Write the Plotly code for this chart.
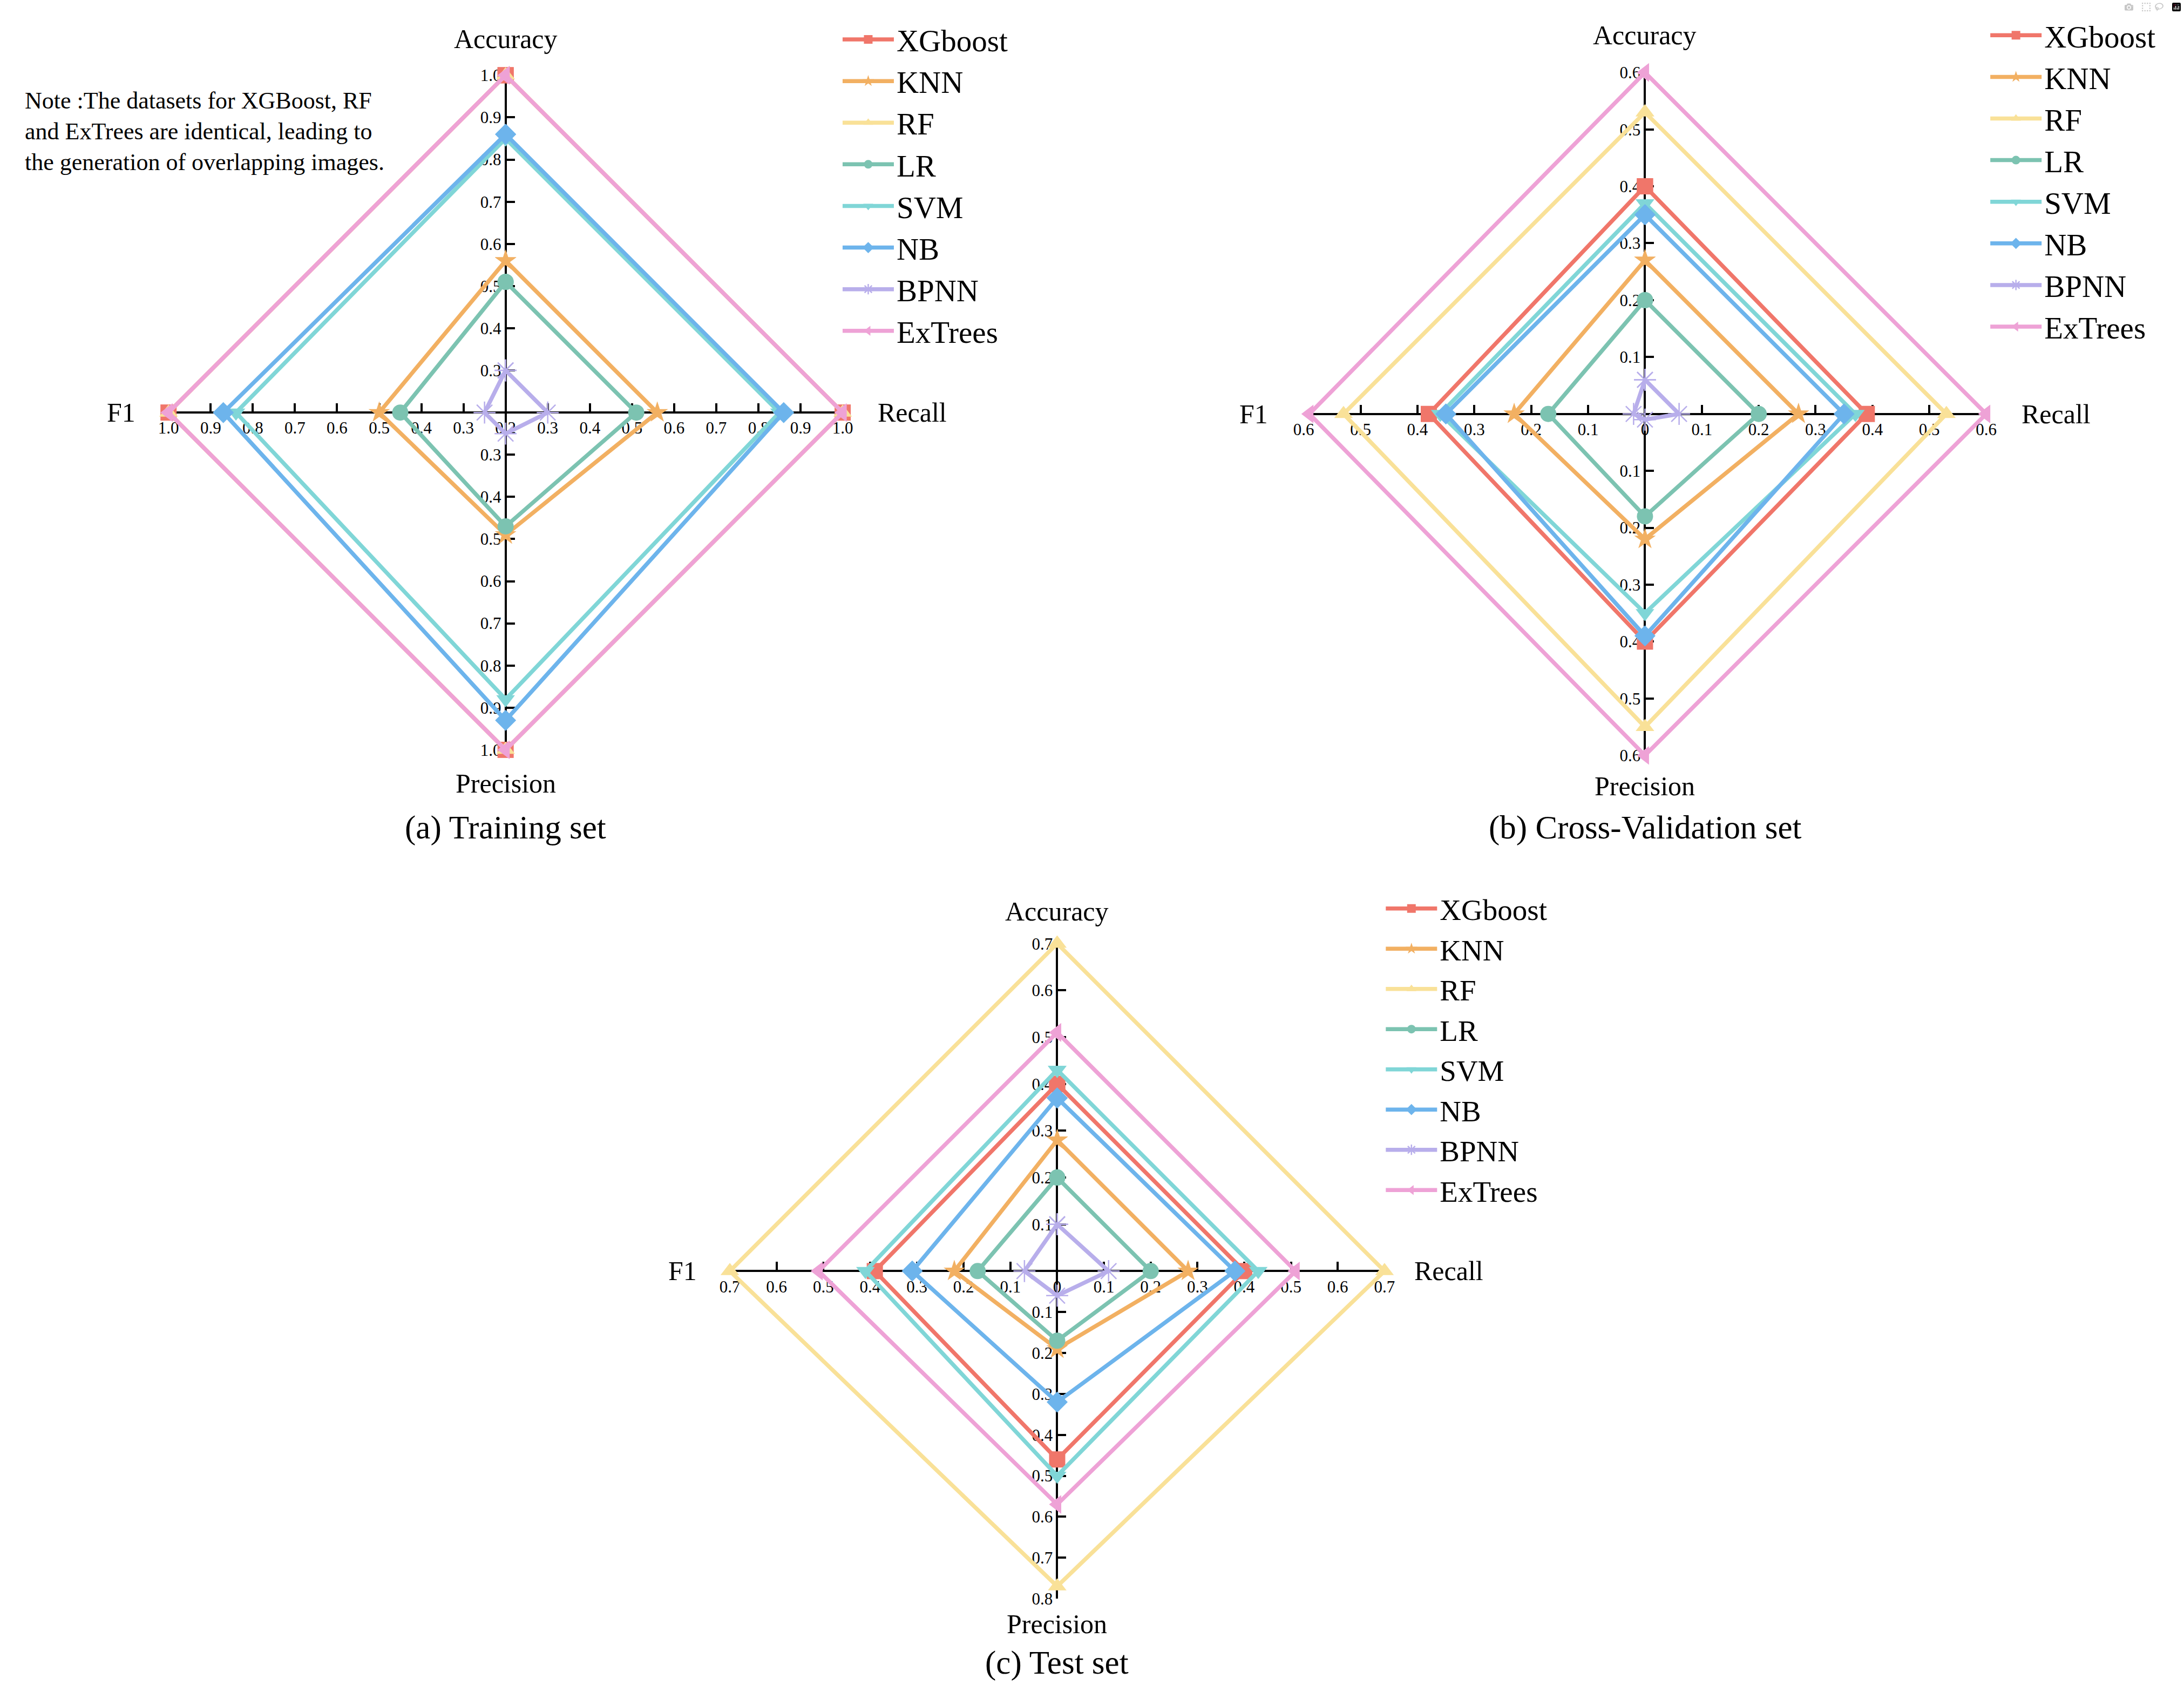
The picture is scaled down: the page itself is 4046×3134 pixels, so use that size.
import plotly.graph_objects as go

# ---------------- data ----------------
models = ["XGboost", "KNN", "RF", "LR", "SVM", "NB", "BPNN", "ExTrees"]
colors = ["#F0766A", "#F2B062", "#F9E198", "#7CC3B1", "#80D6D7", "#6DB4EC", "#B8AEEB", "#EEA2D6"]
symbols = ["square", "star", "triangle-up", "circle", "triangle-down", "diamond", "asterisk-open", "triangle-left"]

# (a) Training set
train_accuracy = [1.00, 0.56, 1.00, 0.51, 0.85, 0.86, 0.30, 1.00]
train_recall = [1.00, 0.56, 1.00, 0.51, 0.85, 0.86, 0.30, 1.00]
train_precision = [1.00, 0.49, 1.00, 0.47, 0.88, 0.93, 0.25, 1.00]
train_f1 = [1.00, 0.50, 1.00, 0.45, 0.84, 0.87, 0.25, 1.00]

# (b) Cross-Validation set
cv_accuracy = [0.40, 0.27, 0.53, 0.20, 0.37, 0.35, 0.06, 0.60]
cv_recall = [0.39, 0.27, 0.53, 0.20, 0.37, 0.35, 0.06, 0.60]
cv_precision = [0.40, 0.22, 0.55, 0.18, 0.35, 0.39, 0.01, 0.60]
cv_f1 = [0.38, 0.23, 0.53, 0.17, 0.36, 0.35, 0.02, 0.59]

# (c) Test set
test_accuracy = [0.40, 0.28, 0.70, 0.20, 0.43, 0.37, 0.10, 0.51]
test_recall = [0.40, 0.28, 0.70, 0.20, 0.43, 0.38, 0.11, 0.51]
test_precision = [0.46, 0.19, 0.77, 0.17, 0.50, 0.32, 0.06, 0.57]
test_f1 = [0.39, 0.22, 0.70, 0.17, 0.41, 0.31, 0.07, 0.51]

# axis scales: (base at centre, end value) for Accuracy, Recall, Precision, F1
train_scale = {"acc": (0.2, 1.0), "rec": (0.2, 1.0), "prec": (0.2, 1.0), "f1": (0.2, 1.0)}
cv_scale = {"acc": (0.0, 0.6), "rec": (0.0, 0.6), "prec": (0.0, 0.6), "f1": (0.0, 0.6)}
test_scale = {"acc": (0.0, 0.7), "rec": (0.0, 0.7), "prec": (0.0, 0.8), "f1": (0.0, 0.7)}

train_ticks = [0.3, 0.4, 0.5, 0.6, 0.7, 0.8, 0.9, 1.0]
cv_ticks = [0.1, 0.2, 0.3, 0.4, 0.5, 0.6]
test_ticks = [0.1, 0.2, 0.3, 0.4, 0.5, 0.6, 0.7]
test_prec_ticks = [0.1, 0.2, 0.3, 0.4, 0.5, 0.6, 0.7, 0.8]

FONT = "Liberation Serif"
W, H = 4046, 3134
DW, DH = 1568.0, 1214.0  # reference proportions


def fx(px):
    return px / DW


def fy(py):
    return 1 - py / DH


def norm(v, sc):
    b, m = sc
    return (v - b) / (m - b)


def fmt_tick(t):
    return "0" if abs(t) < 1e-9 else f"{t:.1f}"


panels = [
    dict(name="a", acc=train_accuracy, rec=train_recall, prec=train_precision, f1=train_f1,
         scale=train_scale, ticks=dict(acc=train_ticks, rec=train_ticks, prec=train_ticks, f1=train_ticks),
         center=(363, 296), arm=242, legend="legend",
         titles=dict(acc=(363, 28), prec=(363, 562), f1=(87, 296), rec=(655, 296)),
         caption=("(a) Training set", 363, 594), leg_x=603, leg_y=26, leg_font=57),
    dict(name="b", acc=cv_accuracy, rec=cv_recall, prec=cv_precision, f1=cv_f1,
         scale=cv_scale, ticks=dict(acc=cv_ticks, rec=cv_ticks, prec=cv_ticks, f1=cv_ticks),
         center=(1181, 297), arm=245, legend="legend2",
         titles=dict(acc=(1181, 25), prec=(1181, 564), f1=(900, 297), rec=(1476, 297)),
         caption=("(b) Cross-Validation set", 1181, 594), leg_x=1427, leg_y=23, leg_font=57),
    dict(name="c", acc=test_accuracy, rec=test_recall, prec=test_precision, f1=test_f1,
         scale=test_scale, ticks=dict(acc=test_ticks, rec=test_ticks, prec=test_prec_ticks, f1=test_ticks),
         center=(759, 912), arm=235, legend="legend3",
         titles=dict(acc=(759, 654), prec=(759, 1165), f1=(490, 912), rec=(1040, 912)),
         caption=("(c) Test set", 759, 1193), leg_x=993, leg_y=650, leg_font=55),
]

fig = go.Figure()
layout = dict(width=W, height=H, margin=dict(l=0, r=0, t=0, b=0),
              paper_bgcolor="white", plot_bgcolor="rgba(0,0,0,0)",
              font=dict(family=FONT, color="black"), annotations=[], showlegend=True)

for k, p in enumerate(panels):
    suffix = "" if k == 0 else str(k + 1)
    sc = p["scale"]
    cx, cy = p["center"]
    xdom = [fx(cx - p["arm"]), fx(cx + p["arm"])]
    ydom = [fy(cy + p["arm"]), fy(cy - p["arm"])]

    for i, m in enumerate(models):
        a = norm(p["acc"][i], sc["acc"])
        r = norm(p["rec"][i], sc["rec"])
        pr = norm(p["prec"][i], sc["prec"])
        f = norm(p["f1"][i], sc["f1"])
        xs = [0, r, 0, -f, 0]
        ys = [a, 0, -pr, 0, a]
        is_ast = symbols[i] == "asterisk-open"
        fig.add_trace(go.Scatter(
            x=xs, y=ys, mode="lines+markers", name=m,
            xaxis="x" + suffix, yaxis="y" + suffix, legend=p["legend"],
            line=dict(color=colors[i], width=7.5),
            marker=dict(symbol=symbols[i], size=30 if not is_ast else 34, color=colors[i],
                        line=dict(color=colors[i], width=2.5 if is_ast else 0)),
            cliponaxis=False, hoverinfo="skip"))

    # x axis: F1 to the left, Recall to the right
    xt_vals, xt_text = [], []
    for t in reversed(p["ticks"]["f1"]):
        xt_vals.append(-norm(t, sc["f1"]))
        xt_text.append(fmt_tick(t))
    xt_vals.append(0)
    xt_text.append(fmt_tick(sc["rec"][0]))
    for t in p["ticks"]["rec"]:
        xt_vals.append(norm(t, sc["rec"]))
        xt_text.append(fmt_tick(t))
    # y axis: Accuracy up, Precision down
    yt_vals, yt_text = [], []
    for t in reversed(p["ticks"]["prec"]):
        yt_vals.append(-norm(t, sc["prec"]))
        yt_text.append(fmt_tick(t))
    for t in p["ticks"]["acc"]:
        yt_vals.append(norm(t, sc["acc"]))
        yt_text.append(fmt_tick(t))

    common = dict(showgrid=False, zeroline=False, showline=True, linecolor="black", linewidth=4,
                  ticks="inside", ticklen=15, tickwidth=4, tickcolor="black",
                  tickfont=dict(family=FONT, size=31, color="black"), tickmode="array",
                  range=[-1, 1], fixedrange=True, layer="below traces", automargin=False)
    layout["xaxis" + suffix] = dict(common, domain=xdom, anchor="free", position=fy(cy),
                                    tickvals=xt_vals, ticktext=xt_text, tickangle=0)
    layout["yaxis" + suffix] = dict(common, domain=ydom, anchor="free", position=fx(cx),
                                    tickvals=yt_vals, ticktext=yt_text)

    # axis titles
    for key, txt in [("acc", "Accuracy"), ("prec", "Precision"), ("f1", "F1"), ("rec", "Recall")]:
        tx, ty = p["titles"][key]
        layout["annotations"].append(dict(text=txt, x=fx(tx), y=fy(ty), xref="paper", yref="paper",
                                          showarrow=False, xanchor="center", yanchor="middle",
                                          font=dict(family=FONT, size=50, color="black")))
    ctext, ccx, ccy = p["caption"]
    layout["annotations"].append(dict(text=ctext, x=fx(ccx), y=fy(ccy), xref="paper", yref="paper",
                                      showarrow=False, xanchor="center", yanchor="middle",
                                      font=dict(family=FONT, size=61, color="black")))

    layout[p["legend"]] = dict(x=fx(p["leg_x"]), y=fy(p["leg_y"]) + 0.012, xanchor="left", yanchor="top",
                               bgcolor="rgba(0,0,0,0)", borderwidth=0, itemwidth=95,
                               font=dict(family=FONT, size=p["leg_font"], color="black"),
                               itemclick=False, itemdoubleclick=False)

layout["annotations"].append(dict(
    text="Note :The datasets for XGBoost, RF<br>and ExTrees are identical, leading to<br>the generation of overlapping images.",
    x=fx(17), y=fy(62), xref="paper", yref="paper", showarrow=False, xanchor="left", yanchor="top",
    align="left", font=dict(family=FONT, size=44, color="black")))

fig.update_layout(**layout)
fig.write_html("out.html", post_script="document.body.style.margin='0';")
